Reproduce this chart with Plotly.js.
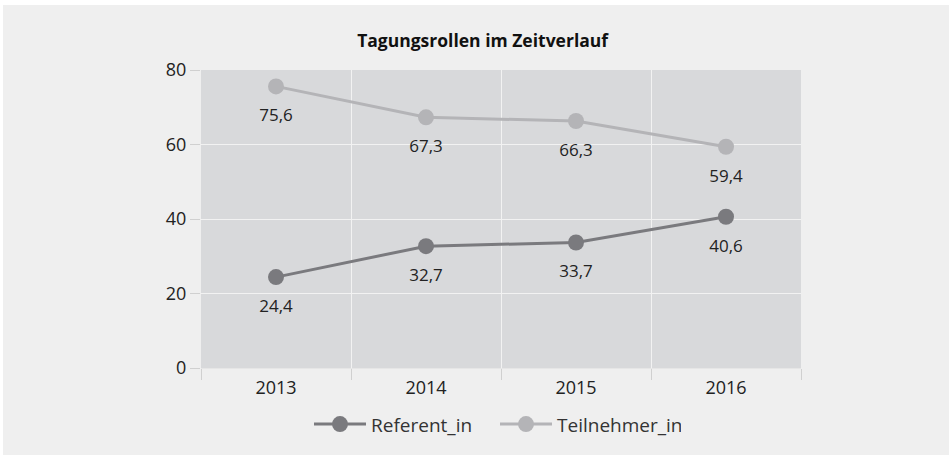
<!DOCTYPE html>
<html>
<head>
<meta charset="utf-8">
<script src="https://cdn.plot.ly/plotly-3.0.1.min.js"></script>
<style>
html,body{margin:0;padding:0;background:#ffffff;}
#chart{position:absolute;left:3px;top:5px;width:946px;height:450px;}
</style>
</head>
<body>
<div id="chart"></div>
<script>
const years = ["2013", "2014", "2015", "2016"];
const referent = [24.4, 32.7, 33.7, 40.6];
const teilnehmer = [75.6, 67.3, 66.3, 59.4];
const seriesNames = ["Referent_in", "Teilnehmer_in"];
const yTicks = [0, 20, 40, 60, 80];

const fontFam = "Open Sans, Noto Sans, sans-serif";
const colors = ["#7a7a7e", "#b4b4b7"];

const seriesValues = [referent, teilnehmer];

const traces = seriesValues.map((vals, i) => ({
  x: years, y: vals, name: seriesNames[i], type: "scatter", mode: "lines+markers",
  line: {color: colors[i], width: 3},
  marker: {color: colors[i], size: 16},
  cliponaxis: false
}));

// value labels (placed below the points)
seriesValues.forEach((vals, i) => {
  traces.push({
    x: years, y: vals, type: "scatter", mode: "markers+text",
    marker: {size: 34, opacity: 0, color: colors[i]},
    texttemplate: "%{y:.1f}", textposition: "bottom center",
    textfont: {family: fontFam, size: 17, color: "#222222"},
    showlegend: false, hoverinfo: "skip", cliponaxis: false
  });
});

const layout = {
  width: 946, height: 450,
  paper_bgcolor: "#efefef",
  plot_bgcolor: "#d8d9db",
  separators: ",.",
  font: {family: fontFam, size: 17, color: "#222222"},
  margin: {l: 198, r: 148, t: 65, b: 79},
  title: {text: "<b>Tagungsrollen im Zeitverlauf</b>", x: 0.507, xanchor: "center", y: 0.92, yanchor: "middle",
          font: {family: fontFam, size: 17.5, color: "#111111"}},
  xaxis: {
    type: "category", range: [-0.5, 3.5], tickson: "boundaries",
    showgrid: true, gridcolor: "#f2f2f2", gridwidth: 1,
    ticks: "outside", ticklen: 11, tickcolor: "#d0d0d0",
    ticklabelstandoff: 3,
    showline: true, linecolor: "#e6e6e6",
    tickfont: {family: fontFam, size: 18, color: "#222222"},
    fixedrange: true
  },
  yaxis: {
    range: [0, 80], tickvals: yTicks,
    showgrid: true, gridcolor: "#f2f2f2", gridwidth: 1,
    zeroline: false,
    ticks: "outside", ticklen: 10, tickcolor: "#d0d0d0",
    tickfont: {family: fontFam, size: 18, color: "#222222"},
    fixedrange: true
  },
  showlegend: true,
  legend: {orientation: "h", x: 0.18, xanchor: "left", y: -0.125, yanchor: "top",
           font: {family: fontFam, size: 19, color: "#333333"},
           itemwidth: 52, entrywidth: 119, entrywidthmode: "pixels"}
};

Plotly.newPlot("chart", traces, layout, {displayModeBar: false, staticPlot: true});
</script>
</body>
</html>
